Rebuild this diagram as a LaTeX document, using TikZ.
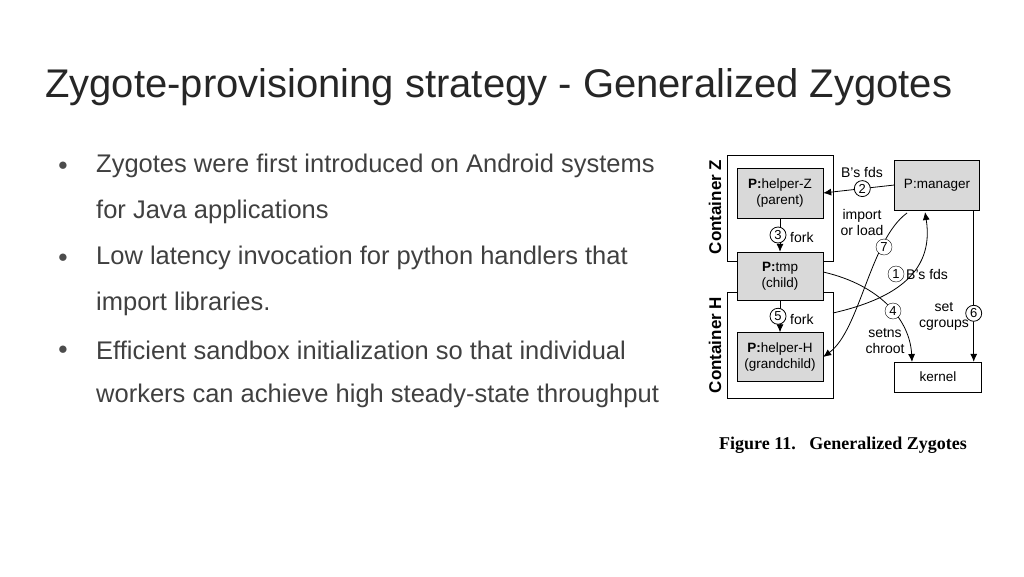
\documentclass[tikz,border=0pt]{standalone}
\usepackage{fontspec}
\setmainfont{Liberation Sans}
\newfontfamily\capfont{Liberation Serif}
\usetikzlibrary{arrows.meta}
\begin{document}
\begin{tikzpicture}[x=1pt,y=-1pt,
  proc/.style={draw,fill=gray!30,minimum width=86pt,align=center,font=\fontsize{13.5}{16}\selectfont,inner sep=0pt},
  cont/.style={draw,thick},
  num/.style={circle,draw,fill=white,inner sep=0pt,minimum size=16pt,font=\fontsize{13}{13}\selectfont},
  lbl/.style={font=\fontsize{14}{16}\selectfont,align=center,inner sep=1pt},
  arr/.style={-{Latex[length=8pt,width=7pt]},thick},
  btxt/.style={anchor=west,font=\fontsize{25.5}{28}\selectfont,text=black!75,inner sep=0pt}]
\useasboundingbox (0,0) rectangle (1024,576);
\node[anchor=west,font=\fontsize{40}{44}\selectfont,text=black!85,inner sep=0pt] (title) at (45,87) {Zygote-provisioning strategy - Generalized Zygotes};
\foreach \y/\t [count=\i] in {166/Zygotes were first introduced on Android systems,212/for Java applications,258/Low latency invocation for python handlers that,304/import libraries.,350/Efficient sandbox initialization so that individual,396/workers can achieve high steady-state throughput}
  \node[btxt] (t\i) at (96,\y) {\t};
\foreach \y in {166,258,350} \node[text=black!70,font=\fontsize{17}{17}\selectfont] at (63,\y) {●};
% containers
\draw[cont] (727,155) rectangle (833,261);
\draw[cont] (727,292) rectangle (833,398);
\node[rotate=90,font=\bfseries\fontsize{17}{18}\selectfont] (cz) at (715,207) {Container Z};
\node[rotate=90,font=\bfseries\fontsize{17}{18}\selectfont] (ch) at (715,345) {Container H};
\node[proc,minimum height=50pt] (hz) at (780,193) {\textbf{P:}helper-Z\\(parent)};
\node[proc,minimum height=48pt] (tmp) at (780,276) {\textbf{P:}tmp\\(child)};
\node[proc,minimum height=49pt] (hh) at (780,357) {\textbf{P:}helper-H\\(grandchild)};
\node[proc,minimum height=50pt,minimum width=85pt] (mgr) at (937,185) {P:manager};
\node[draw,minimum width=87pt,minimum height=30pt,font=\fontsize{13.5}{16}\selectfont] (ker) at (938,377) {kernel};
\coordinate (c1) at (833,313);
% arrows
\draw[arr] (mgr.west) -- (hz.east) node[num,pos=0.45] (n2) {2};
\node[lbl] (l2) at (862,172) {B’s fds};
\draw[arr] (hz) -- (tmp) node[num,midway,xshift=-2pt] (n3) {3};
\node[lbl,anchor=west] (l3) at (789,237) {fork};
\draw[arr] (tmp) -- (hh) node[num,midway,xshift=-2pt] (n5) {5};
\node[lbl,anchor=west] (l5) at (789,319) {fork};
\draw[arr] ([xshift=-6pt]mgr.south east) -- ([xshift=-6pt]mgr.south east |- ker.north) node[num,pos=0.68] (n6) {6};
\node[lbl] (l6) at (944,316) {set\\cgroups};
\draw[arr] (907,213) .. controls (870,240) and (860,330) .. (hh.east) ;
\node[num] (n7) at (884,247) {7};
\node[lbl] (l7) at (862,222) {import\\or load};
\draw[arr] (c1) .. controls (890,300) and (935,275) .. (925,212);
\node[num] (n1) at (896,274) {1};
\node[lbl,anchor=west] (l1) at (905,274) {B’s fds};
\draw[arr] ([yshift=4pt]tmp.east) .. controls (880,285) and (910,320) .. (912,362);
\node[num] (n4) at (893,311) {4};
\node[lbl] (l4) at (885,341) {setns\\chroot};
\node[font=\capfont\bfseries\fontsize{18}{20}\selectfont] (cap) at (843,445) {Figure 11.\ \ \ Generalized Zygotes};
\end{tikzpicture}
\end{document}
